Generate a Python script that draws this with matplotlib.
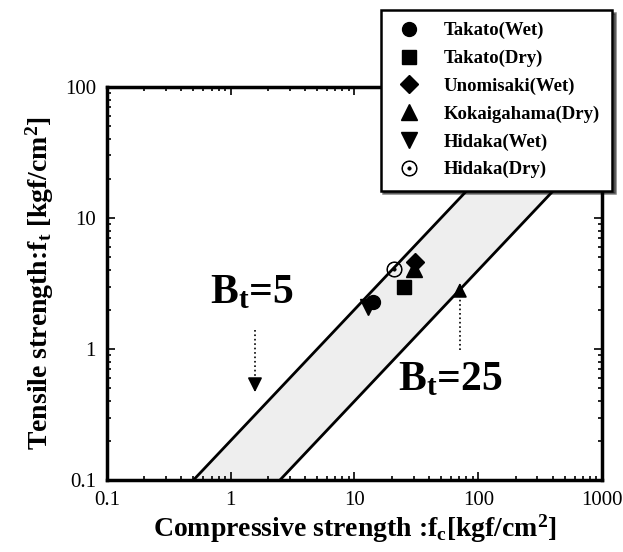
import numpy as np
import matplotlib
matplotlib.use("Agg")
import matplotlib.pyplot as plt

plt.rcParams['font.family'] = ['Liberation Serif', 'DejaVu Serif']
plt.rcParams['mathtext.fontset'] = 'custom'
plt.rcParams['mathtext.rm'] = 'Liberation Serif'
plt.rcParams['mathtext.bf'] = 'Liberation Serif:bold'
plt.rcParams['mathtext.it'] = 'Liberation Serif:italic'

# ---- data -------------------------------------------------------
series_names = ['Takato(Wet)', 'Takato(Dry)', 'Unomisaki(Wet)',
                'Kokaigahama(Dry)', 'Hidaka(Wet)', 'Hidaka(Dry)']
fc_values = [14.0, 25.0, 31.0, 30.0, 12.8, 21.0]
ft_values = [2.3, 3.0, 4.6, 4.1, 2.1, 4.1]
markers = ['o', 's', 'D', '^', 'v', r'$\odot$']
msizes = [10, 10, 9, 12, 12, 11]

bt_upper = 5      # ft = fc / Bt
bt_lower = 25
x_ticks = [0.1, 1, 10, 100, 1000]
x_ticklabels = ['0.1', '1', '10', '100', '1000']
y_ticks = [0.1, 1, 10, 100]
y_ticklabels = ['0.1', '1', '10', '100']

# ---- figure -----------------------------------------------------
fig = plt.figure(figsize=(6.23, 5.52), dpi=100)
ax0 = fig.add_axes([0.1717, 0.1304, 0.7946, 0.712])

fc = np.logspace(np.log10(0.1), np.log10(1000), 400)
upper = np.clip(fc / bt_upper, 0.1, 100)
lower = np.clip(fc / bt_lower, 0.1, 100)
band = (fc >= 0.1 * bt_upper)
ax0.fill_between(fc[band], lower[band], upper[band], color='#EEEEEE', zorder=1)
ax0.plot(fc[fc >= 0.1 * bt_upper], (fc / bt_upper)[fc >= 0.1 * bt_upper],
         color='k', lw=2.0, zorder=2)
ax0.plot(fc[fc >= 0.1 * bt_lower], (fc / bt_lower)[fc >= 0.1 * bt_lower],
         color='k', lw=2.0, zorder=2)

handles = []
for name, x, y, m, s in zip(series_names, fc_values, ft_values, markers, msizes):
    h, = ax0.plot([x], [y], linestyle='none', marker=m, markersize=s,
                  color='k', markeredgecolor='k', markeredgewidth=0.6 if m.startswith('$') else 1.0,
                  label=name, zorder=3)
    handles.append(h)

ax0.set_xscale('log')
ax0.set_yscale('log')
ax0.set_xlim(0.1, 1000)
ax0.set_ylim(0.1, 100)
ax0.set_xticks(x_ticks)
ax0.set_xticklabels(x_ticklabels)
ax0.set_yticks(y_ticks)
ax0.set_yticklabels(y_ticklabels)
ax0.tick_params(which='both', direction='in', top=True, right=True,
                labelsize=15, width=1.2)
ax0.tick_params(which='major', length=6, pad=8)
ax0.tick_params(which='minor', length=3)
for sp in ax0.spines.values():
    sp.set_linewidth(2.5)

# annotations
ax0.text(0.68, 2.24, r'B$_\mathbf{t}$=5', fontsize=30, fontweight='bold',
         va='baseline', ha='left')
ax0.text(22.5, 0.486, r'B$_\mathbf{t}$=25', fontsize=30, fontweight='bold',
         va='baseline', ha='left')

ax0.plot([1.57, 1.57], [1.40, 0.58], color='k', lw=1.2, ls=':')
ax0.annotate('', xy=(1.57, 0.446), xytext=(1.57, 0.62),
             arrowprops=dict(arrowstyle='-|>', color='k', lw=1.2,
                             mutation_scale=22))
ax0.plot([71, 71], [0.98, 2.5], color='k', lw=1.2, ls=':')
ax0.annotate('', xy=(71, 3.36), xytext=(71, 2.4),
             arrowprops=dict(arrowstyle='-|>', color='k', lw=1.2,
                             mutation_scale=22))

ax0.set_xlabel(r'Compressive strength :f$_\mathbf{c}$[kgf/cm$^\mathbf{2}$]',
               fontsize=20, fontweight='bold', labelpad=2)
ax0.set_ylabel(r'Tensile strength:f$_\mathbf{t}$ [kgf/cm$^\mathbf{2}$]',
               fontsize=20, fontweight='bold', labelpad=6)

leg = ax0.legend(handles=handles, loc='upper right',
                 bbox_to_anchor=(0.982, 0.982), bbox_transform=fig.transFigure,
                 prop={'weight': 'bold', 'size': 13.5}, frameon=True,
                 fancybox=False, shadow={'color': 'black'}, framealpha=1,
                 edgecolor='k', borderpad=0.65, labelspacing=0.56,
                 handletextpad=1.0, handlelength=1.7, borderaxespad=0)
leg.get_frame().set_linewidth(1.8)
leg.set_zorder(10)

plt.savefig('out.png', dpi=100)
